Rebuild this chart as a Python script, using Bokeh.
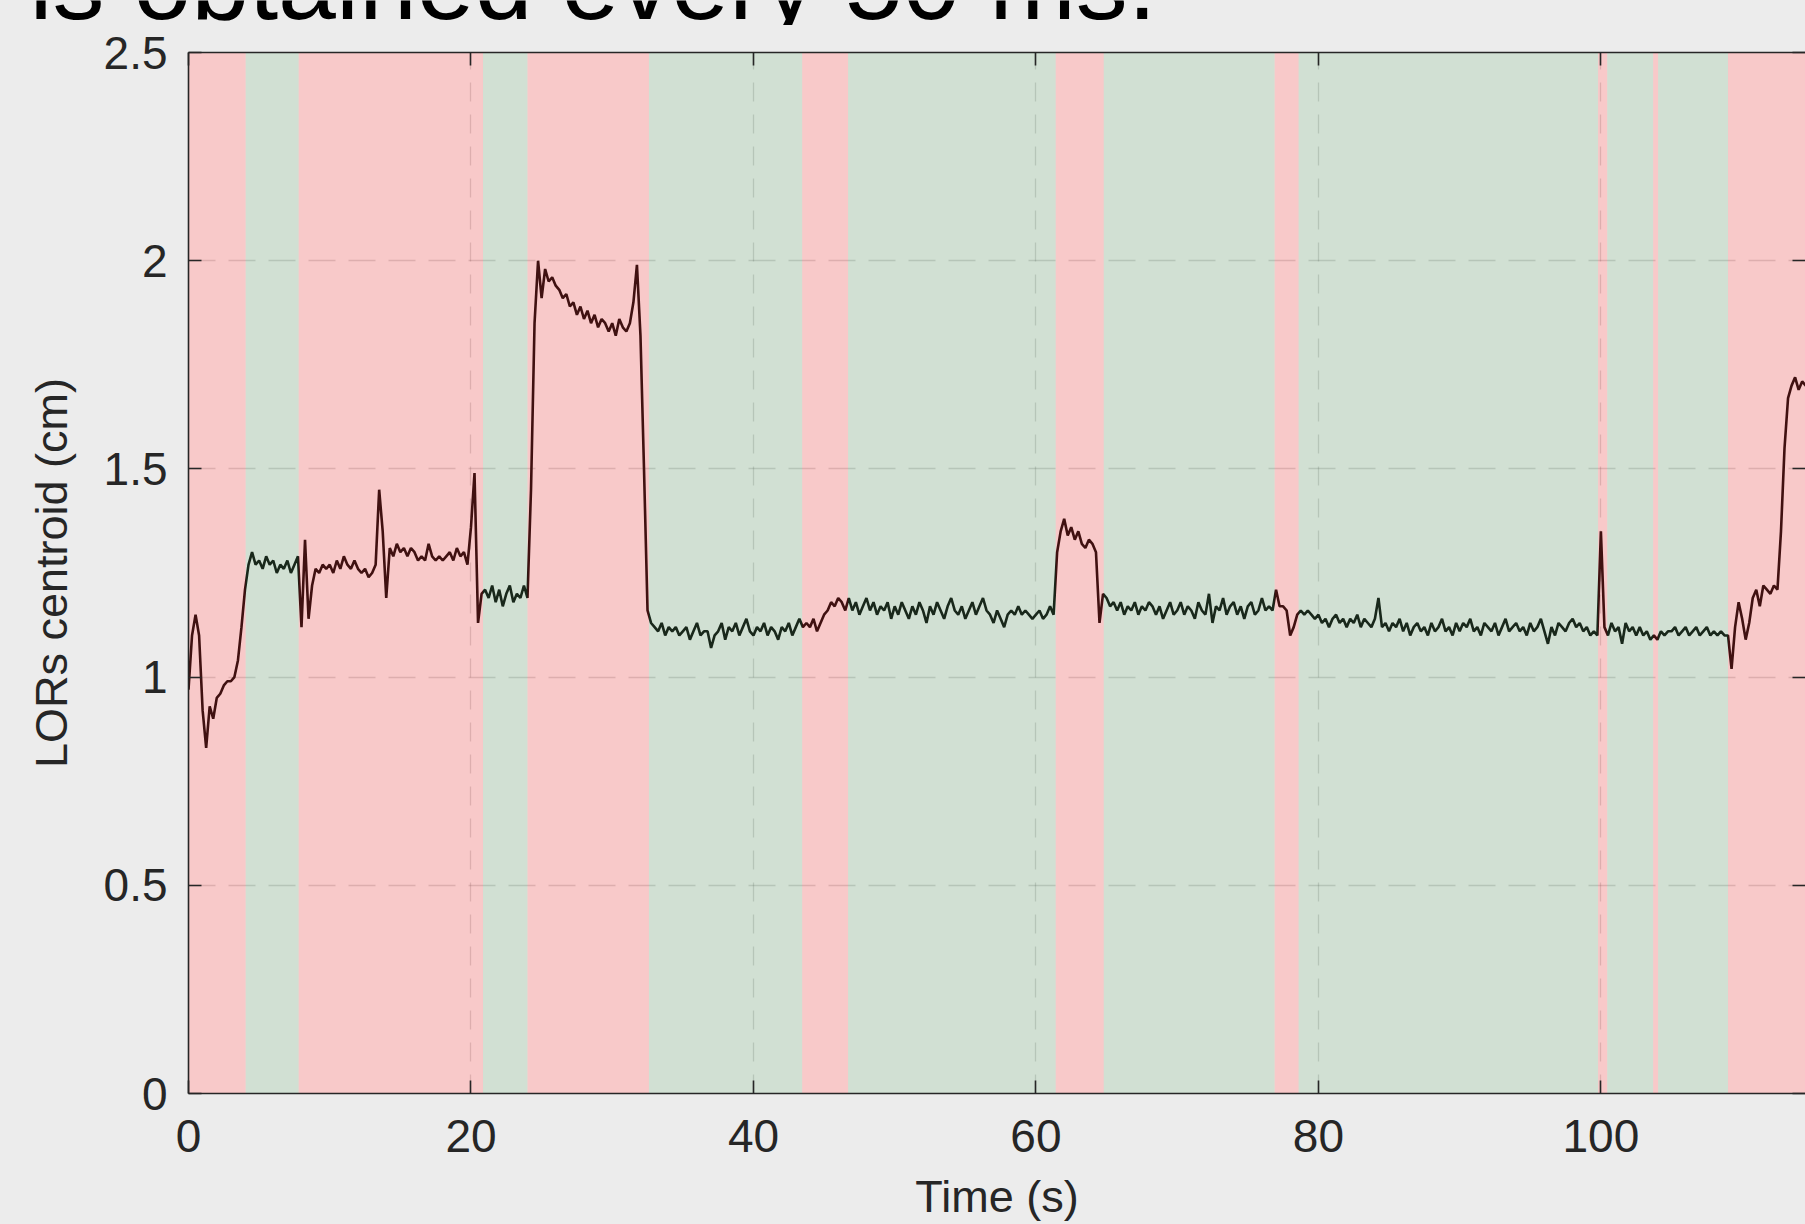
import numpy as np
from bokeh.plotting import figure
from bokeh.layouts import column
from bokeh.models import Range1d, FixedTicker, LinearAxis
from bokeh.core.properties import value
from bokeh.embed import file_html
from bokeh.resources import INLINE

# ---- data, one value every 0.25 s ----
dt = 0.25
y_00_10 = [0.97, 1.10, 1.15, 1.10, 0.92, 0.83, 0.93, 0.90, 0.95, 0.96,
           0.98, 0.99, 0.99, 1.00, 1.04, 1.12, 1.21, 1.27, 1.30, 1.27,
           1.28, 1.26, 1.29, 1.27, 1.28, 1.25, 1.27, 1.26, 1.28, 1.25,
           1.27, 1.29, 1.12, 1.33, 1.14, 1.22, 1.26, 1.25, 1.27, 1.26]
y_10_20 = [1.27, 1.25, 1.28, 1.26, 1.29, 1.27, 1.26, 1.28, 1.26, 1.25,
           1.26, 1.24, 1.25, 1.27, 1.45, 1.35, 1.19, 1.31, 1.29, 1.32,
           1.30, 1.31, 1.29, 1.31, 1.30, 1.28, 1.29, 1.28, 1.32, 1.29,
           1.28, 1.29, 1.28, 1.29, 1.30, 1.28, 1.31, 1.29, 1.30, 1.27]
y_20_30 = [1.36, 1.49, 1.13, 1.20, 1.21, 1.19, 1.22, 1.18, 1.21, 1.17,
           1.20, 1.22, 1.18, 1.20, 1.19, 1.22, 1.19, 1.45, 1.85, 2.00,
           1.91, 1.98, 1.95, 1.96, 1.94, 1.93, 1.91, 1.92, 1.89, 1.90,
           1.87, 1.89, 1.86, 1.88, 1.85, 1.87, 1.84, 1.86, 1.85, 1.83]
y_30_40 = [1.85, 1.82, 1.86, 1.84, 1.83, 1.85, 1.90, 1.99, 1.82, 1.50,
           1.16, 1.13, 1.12, 1.11, 1.13, 1.10, 1.12, 1.11, 1.12, 1.10,
           1.11, 1.12, 1.09, 1.11, 1.13, 1.10, 1.11, 1.11, 1.07, 1.10,
           1.11, 1.13, 1.09, 1.12, 1.11, 1.13, 1.10, 1.12, 1.14, 1.11]
y_40_50 = [1.10, 1.12, 1.11, 1.13, 1.10, 1.12, 1.11, 1.09, 1.12, 1.11,
           1.13, 1.10, 1.12, 1.14, 1.12, 1.13, 1.12, 1.14, 1.11, 1.13,
           1.15, 1.16, 1.18, 1.17, 1.19, 1.18, 1.16, 1.19, 1.16, 1.18,
           1.15, 1.17, 1.19, 1.16, 1.18, 1.15, 1.17, 1.16, 1.18, 1.14]
y_50_60 = [1.17, 1.15, 1.18, 1.16, 1.14, 1.17, 1.15, 1.18, 1.16, 1.13,
           1.17, 1.15, 1.18, 1.16, 1.14, 1.17, 1.19, 1.16, 1.15, 1.17,
           1.14, 1.16, 1.18, 1.15, 1.17, 1.19, 1.16, 1.15, 1.13, 1.16,
           1.14, 1.12, 1.15, 1.16, 1.15, 1.17, 1.15, 1.16, 1.15, 1.14]
y_60_70 = [1.15, 1.16, 1.14, 1.15, 1.17, 1.15, 1.30, 1.35, 1.38, 1.34,
           1.36, 1.33, 1.35, 1.32, 1.31, 1.33, 1.32, 1.30, 1.13, 1.20,
           1.19, 1.17, 1.18, 1.16, 1.18, 1.15, 1.17, 1.16, 1.18, 1.15,
           1.17, 1.16, 1.18, 1.17, 1.15, 1.17, 1.14, 1.16, 1.18, 1.15]
y_70_80 = [1.16, 1.18, 1.15, 1.17, 1.16, 1.14, 1.18, 1.16, 1.15, 1.20,
           1.13, 1.17, 1.16, 1.19, 1.15, 1.17, 1.18, 1.15, 1.17, 1.14,
           1.17, 1.18, 1.15, 1.16, 1.19, 1.16, 1.17, 1.16, 1.21, 1.17,
           1.17, 1.16, 1.10, 1.12, 1.15, 1.16, 1.15, 1.16, 1.15, 1.14]
y_80_90 = [1.15, 1.13, 1.14, 1.12, 1.14, 1.15, 1.13, 1.14, 1.12, 1.14,
           1.13, 1.15, 1.12, 1.14, 1.13, 1.12, 1.14, 1.19, 1.12, 1.13,
           1.11, 1.13, 1.12, 1.14, 1.11, 1.13, 1.10, 1.12, 1.13, 1.11,
           1.12, 1.10, 1.13, 1.11, 1.12, 1.14, 1.11, 1.12, 1.10, 1.13]
y_90_100 = [1.11, 1.13, 1.12, 1.14, 1.11, 1.12, 1.10, 1.13, 1.12, 1.11,
            1.13, 1.10, 1.12, 1.14, 1.11, 1.12, 1.13, 1.11, 1.12, 1.10,
            1.13, 1.11, 1.12, 1.14, 1.11, 1.08, 1.12, 1.10, 1.13, 1.12,
            1.11, 1.13, 1.14, 1.12, 1.13, 1.11, 1.12, 1.10, 1.11, 1.10]
y_100_110 = [1.35, 1.12, 1.10, 1.13, 1.11, 1.12, 1.08, 1.13, 1.11, 1.12,
             1.10, 1.12, 1.10, 1.11, 1.09, 1.10, 1.09, 1.11, 1.10, 1.11,
             1.11, 1.12, 1.10, 1.11, 1.12, 1.10, 1.11, 1.12, 1.10, 1.11,
             1.12, 1.10, 1.11, 1.10, 1.11, 1.10, 1.10, 1.02, 1.12, 1.18]
y_110_115 = [1.14, 1.09, 1.13, 1.19, 1.21, 1.17, 1.22, 1.21, 1.20, 1.22,
             1.21, 1.35, 1.55, 1.67, 1.70, 1.72, 1.69, 1.71, 1.70, 1.71]

# shaded intervals (s) and their state
band_start = [0.0, 4.05, 7.8, 20.85, 24.0, 32.6, 43.45, 46.7, 61.4, 64.8,
              76.9, 78.6, 99.8, 100.45, 103.7, 104.05, 109.0]
band_end = [4.05, 7.8, 20.85, 24.0, 32.6, 43.45, 46.7, 61.4, 64.8, 76.9,
            78.6, 99.8, 100.45, 103.7, 104.05, 109.0, 116.0]
band_state = ["red", "green", "red", "green", "red", "green", "red", "green",
              "red", "green", "red", "green", "red", "green", "red", "green",
              "red"]

x_ticks = [0, 20, 40, 60, 80, 100]
y_ticks = [0, 0.5, 1, 1.5, 2, 2.5]
y_tick_labels = {0: "0", 0.5: "0.5", 1: "1", 1.5: "1.5", 2: "2", 2.5: "2.5"}

title_text = "is obtained every 50 ms."
x_label = "Time (s)"
y_label = "LORs centroid (cm)"

# ---- build ----
y = np.concatenate([y_00_10, y_10_20, y_20_30, y_30_40, y_40_50, y_50_60,
                    y_60_70, y_70_80, y_80_90, y_90_100, y_100_110, y_110_115])
t = np.arange(len(y)) * dt

state_color = {"red": "#fe4242", "green": "#629e6a"}
colors = [state_color[s] for s in band_state]

AX = "#262626"
FONT = "Liberation Sans"
BG = "#ececec"
W = 1805
TITLE_H = 25
MAIN_H = 1224 - TITLE_H

# strip holding the (cropped) slide text above the chart
tf = figure(width=W, height=TITLE_H, x_range=Range1d(0, W),
            y_range=Range1d(0, TITLE_H), x_axis_type=None, y_axis_type=None,
            toolbar_location=None, output_backend="svg", min_border=0,
            outline_line_color=None, background_fill_color=BG,
            border_fill_color=BG)
if "frame_align" in tf.properties():
    tf.frame_align = False
tf.text(x=[29], y=[TITLE_H - 10], text=[title_text], text_font=value(FONT),
        text_font_size=value("104px"), text_color="black",
        text_baseline="middle", text_align="left", y_offset=-28)

# main chart
p = figure(width=W, height=MAIN_H,
           x_range=Range1d(0, (W - 188) / 14.124), y_range=Range1d(0, 2.5),
           output_backend="svg", toolbar_location=None,
           min_border_left=188, min_border_top=52 - TITLE_H,
           min_border_bottom=131, min_border_right=0,
           background_fill_color="#f6f6f6", border_fill_color=BG,
           outline_line_color=None)
if "frame_align" in p.properties():
    p.frame_align = False

bottom_axis = p.below[0]
left_axis = p.left[0]
bottom_axis.ticker = FixedTicker(ticks=x_ticks)
left_axis.ticker = FixedTicker(ticks=y_ticks)
left_axis.major_label_overrides = y_tick_labels
bottom_axis.axis_label = x_label
left_axis.axis_label = y_label

top_axis = LinearAxis(ticker=FixedTicker(ticks=x_ticks),
                      major_label_overrides={k: "" for k in x_ticks},
                      major_label_standoff=0)
p.add_layout(top_axis, "above")
right_axis = LinearAxis(ticker=FixedTicker(ticks=y_ticks),
                        major_label_overrides={k: "" for k in y_ticks},
                        major_label_standoff=0)
p.add_layout(right_axis, "right")

for ax in (bottom_axis, left_axis, top_axis, right_axis):
    ax.axis_line_color = AX
    ax.axis_line_width = 1.6
    ax.major_tick_line_color = AX
    ax.major_tick_line_width = 1.6
    ax.major_tick_in = 13
    ax.major_tick_out = 0
    ax.minor_tick_line_color = None
    ax.major_label_text_font = FONT
    ax.major_label_text_color = AX
    ax.axis_label_text_font = FONT
    ax.axis_label_text_color = AX
    ax.axis_label_text_font_style = "normal"
right_axis.axis_line_color = None

for ax in (bottom_axis, left_axis):
    ax.major_label_text_font_size = "46px"
    ax.axis_label_text_font_size = "45px"
bottom_axis.major_label_standoff = 26
left_axis.major_label_standoff = 21
bottom_axis.axis_label_standoff = 16
left_axis.axis_label_standoff = 24

p.xgrid.ticker = FixedTicker(ticks=x_ticks)
p.ygrid.ticker = FixedTicker(ticks=y_ticks)
p.xgrid.grid_line_color = AX
p.ygrid.grid_line_color = AX
p.xgrid.grid_line_alpha = 0.17
p.ygrid.grid_line_alpha = 0.17
p.xgrid.grid_line_dash = "19 13"
p.ygrid.grid_line_dash = "27 13"
p.xgrid.grid_line_width = 1.3
p.ygrid.grid_line_width = 1.3

# signal line (under the translucent patches, as in the source figure)
p.line(t, y, line_color="black", line_width=2.6)

# translucent state patches drawn over the line
p.quad(left=band_start, right=band_end, bottom=0, top=2.5,
       fill_color=colors, fill_alpha=0.25, line_color=None)

layout = column(tf, p, spacing=0, styles={"background-color": BG})
open("out.html", "w").write(file_html(layout, INLINE))
